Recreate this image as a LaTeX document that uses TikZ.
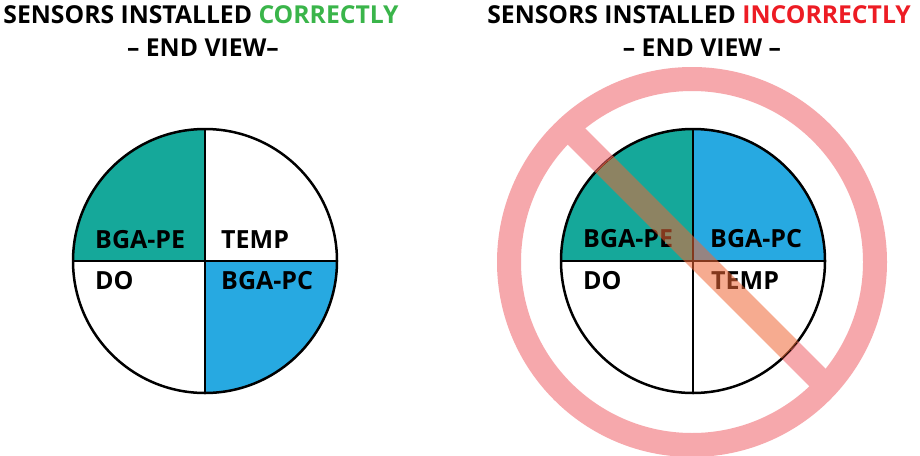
\documentclass[tikz,border=0pt]{standalone}
\usepackage{fontspec}
\setmainfont{Open Sans}
\usetikzlibrary{calc}
\definecolor{tealc}{HTML}{15A89A}
\definecolor{bluec}{HTML}{27A9E1}
\definecolor{greenc}{HTML}{3AB54A}
\definecolor{redc}{HTML}{ED1C24}
\definecolor{pinkc}{RGB}{240,97,104}
\definecolor{orangec}{RGB}{240,102,53}
\tikzset{
  lbl/.style={anchor=base west, inner sep=0pt, font=\fontsize{25}{25}\selectfont\bfseries},
  ttl/.style={anchor=base, inner sep=0pt, font=\fontsize{24.7}{24.7}\selectfont\bfseries},
  rim/.style={line width=2.5pt, draw=black},
  divider/.style={line width=2pt, draw=black},
  nobar/.style={line width=24pt, line cap=butt}
}
\begin{document}
\begin{tikzpicture}[x=1pt,y=1pt]
\useasboundingbox (0,0) rectangle (920,-455);
\fill[white] (0,0) rectangle (920,-455);
% titles
\node[ttl] (t1) at (201,-23) {SENSORS INSTALLED \textcolor{greenc}{CORRECTLY}};
\node[ttl] (t2) at (203,-56) {– END VIEW–};
\node[ttl] (t3) at (699,-23) {SENSORS INSTALLED \textcolor{redc}{INCORRECTLY}};
\node[ttl] (t4) at (702,-56) {– END VIEW –};
% left circle
\coordinate (L) at (205,-261);
\fill[tealc] (L) -- ++(-132,0) arc[start angle=180,end angle=90,radius=132] -- cycle;
\fill[bluec] (L) -- ++(132,0) arc[start angle=0,end angle=-90,radius=132] -- cycle;
\draw[divider] ($(L)+(0,132)$) -- ($(L)+(0,-132)$);
\draw[divider] ($(L)+(-132,0)$) -- ($(L)+(132,0)$);
\draw[rim] (L) circle (132);
\node[lbl] (l1) at (95,-248) {BGA-PE};
\node[lbl] (l2) at (221,-248) {TEMP};
\node[lbl] (l3) at (95,-289) {DO};
\node[lbl] (l4) at (221,-289) {BGA-PC};
% right circle
\coordinate (R) at (693,-261);
\fill[tealc] (R) -- ++(-132,0) arc[start angle=180,end angle=90,radius=132] -- cycle;
\fill[bluec] (R) -- ++(0,132) arc[start angle=90,end angle=0,radius=132] -- cycle;
\draw[divider] ($(R)+(0,132)$) -- ($(R)+(0,-132)$);
\draw[divider] ($(R)+(-132,0)$) -- ($(R)+(132,0)$);
\draw[rim] (R) circle (132);
\node[lbl] (r1) at (583,-247) {BGA-PE};
\node[lbl] (r2) at (710,-247) {BGA-PC};
\node[lbl] (r3) at (583,-289) {DO};
\node[lbl] (r4) at (711,-289) {TEMP};
% prohibition sign
\coordinate (P) at (692,-262);
\coordinate (b1) at (569,-129);
\coordinate (b2) at (825,-385);
\begin{scope}[even odd rule]
  \clip (470,10) rectangle (930,-465) (R) circle (132);
  \begin{scope}[transparency group, opacity=0.55]
    \draw[pinkc, line width=24pt] (P) circle (183);
    \draw[pinkc, nobar] (b1) -- (b2);
  \end{scope}
\end{scope}
\begin{scope}
  \clip (R) circle (132);
  \draw[orangec, opacity=0.55, nobar] (b1) -- (b2);
\end{scope}
\end{tikzpicture}
\end{document}
